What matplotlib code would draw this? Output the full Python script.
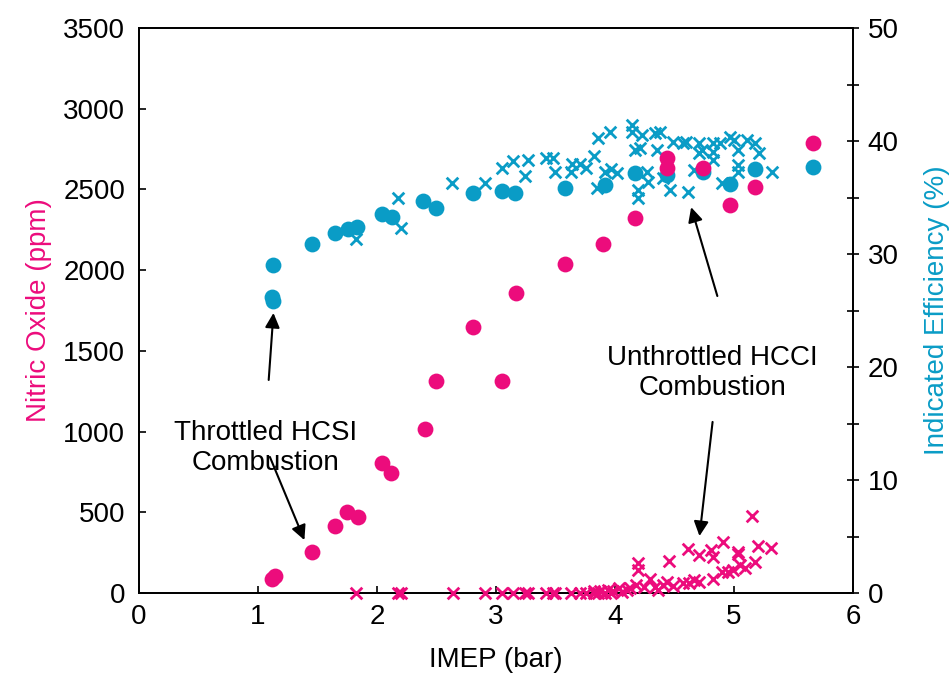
import matplotlib
matplotlib.use('Agg')
import matplotlib.pyplot as plt
from matplotlib.ticker import MultipleLocator

plt.rcParams['font.family'] = ['Liberation Sans', 'DejaVu Sans']

PINK = '#ec0c7c'
CYAN = '#0a9cc6'

# スロットル運転 (HCSI): 丸
thr_nox_x = [1.12, 1.14, 1.45, 1.65, 1.75, 1.84, 2.04, 2.12, 2.40, 2.50, 2.81,
             3.05, 3.17, 3.58, 3.90, 4.17, 4.44, 4.44, 4.74, 4.97, 5.18, 5.66]
thr_nox = [85, 105, 254, 415, 502, 471, 805, 743, 1016, 1313, 1648,
           1313, 1859, 2040, 2160, 2323, 2695, 2633, 2633, 2404, 2515, 2788]

thr_eff_x = [1.13, 1.12, 1.13, 1.45, 1.65, 1.76, 1.83, 2.04, 2.13, 2.39, 2.50,
             2.81, 3.05, 3.16, 3.58, 3.92, 4.17, 4.44, 4.74, 4.97, 5.18, 5.66]
thr_eff = [29.0, 26.2, 25.8, 30.9, 31.9, 32.2, 32.4, 33.5, 33.3, 34.7, 34.1,
           35.4, 35.6, 35.4, 35.8, 36.1, 37.2, 37.0, 37.3, 36.2, 37.5, 37.7]

# ノンスロットル運転 (HCCI): バツ
hcci_eff_x = [1.82, 2.18, 2.20, 2.63, 2.91, 3.05, 3.14, 3.24, 3.27, 3.42, 3.48,
              3.50, 3.63, 3.64, 3.71, 3.76, 3.82, 3.85, 3.86, 3.92, 3.96, 3.97,
              4.02, 4.14, 4.14, 4.17, 4.19, 4.19, 4.21, 4.23, 4.27, 4.28, 4.34,
              4.38, 4.35, 4.40, 4.46, 4.49, 4.57, 4.60, 4.61, 4.66, 4.71, 4.71,
              4.73, 4.82, 4.82, 4.82, 4.88, 4.90, 4.97, 5.00, 5.03, 5.03, 5.03,
              5.11, 5.18, 5.21, 5.32]
hcci_eff = [31.3, 35.0, 32.3, 36.3, 36.3, 37.6, 38.2, 36.9, 38.3, 38.5, 38.5,
            37.3, 37.3, 38.0, 38.0, 37.6, 38.7, 35.8, 40.3, 37.3, 40.8, 37.5,
            37.2, 41.4, 40.8, 39.2, 35.7, 35.0, 39.4, 40.5, 37.3, 36.4, 40.7,
            40.8, 39.2, 36.7, 35.7, 39.9, 39.8, 39.9, 35.5, 37.4, 39.8, 38.9,
            39.2, 39.8, 39.0, 38.3, 39.8, 36.3, 40.4, 40.1, 39.2, 37.9, 37.3,
            40.1, 39.8, 38.9, 37.3]

hcci_nox_x = [1.82, 2.18, 2.20, 2.64, 2.91, 3.05, 3.14, 3.24, 3.27, 3.42, 3.48,
              3.50, 3.63, 3.71, 3.76, 3.82, 3.86, 3.92, 3.97, 3.82, 3.87, 3.94,
              3.98, 4.03, 4.06, 4.10, 4.13, 4.18, 4.24, 4.19, 4.19, 4.29, 4.34,
              4.36, 4.40, 4.44, 4.45, 4.49, 4.57, 4.61, 4.62, 4.66, 4.71, 4.71,
              4.81, 4.82, 4.82, 4.90, 4.91, 4.95, 4.99, 5.03, 5.03, 5.05, 5.09,
              5.15, 5.18, 5.20, 5.31]
hcci_nox = [0, 0, 0, 0, 0, 0, 0, 0, 0, 0, 0,
            0, 0, 0, 0, 0, 0, 0, 0, 12, 12, 19,
            12, 31, 8, 19, 31, 50, 37, 186, 143, 87, 37,
            19, 50, 68, 198, 43, 62, 273, 62, 80, 68, 235,
            266, 223, 87, 130, 316, 130, 143, 254, 242, 173, 155,
            477, 192, 291, 279]

fig = plt.figure(figsize=(9.5, 6.77), dpi=100)
ax = fig.add_axes([0.1463, 0.124, 0.7516, 0.8346])   # 効率 (右軸)
ax2 = ax.twinx()                                     # NOx (左軸)

ax.scatter(thr_eff_x, thr_eff, s=130, marker='o', color=CYAN, linewidths=0, zorder=3)
ax.scatter(hcci_eff_x, hcci_eff, s=70, marker='x', color=CYAN, linewidths=2.0, zorder=3)
ax2.scatter(thr_nox_x, thr_nox, s=130, marker='o', color=PINK, linewidths=0, zorder=3)
ax2.scatter(hcci_nox_x, hcci_nox, s=70, marker='x', color=PINK, linewidths=2.0,
            zorder=3, clip_on=False)

ax.set_xlim(0, 6)
ax.set_ylim(0, 50)
ax2.set_ylim(0, 3500)

ax.yaxis.tick_right()
ax.yaxis.set_label_position('right')
ax2.yaxis.tick_left()
ax2.yaxis.set_label_position('left')

ax.xaxis.set_major_locator(MultipleLocator(1))
ax.yaxis.set_major_locator(MultipleLocator(10))
ax.yaxis.set_minor_locator(MultipleLocator(5))
ax2.yaxis.set_major_locator(MultipleLocator(500))

ax.tick_params(axis='x', direction='in', length=5, width=1.2, labelsize=20, pad=8)
ax.tick_params(axis='y', which='both', direction='inout', length=9, width=1.2,
               labelsize=20, pad=6)
ax.tick_params(axis='y', which='minor', labelright=False)
ax2.tick_params(axis='y', direction='in', length=5, width=1.2, labelsize=20, pad=10)

for a in (ax, ax2):
    for sp in a.spines.values():
        sp.set_linewidth(1.3)

ax.set_xlabel('IMEP (bar)', fontsize=20, labelpad=12)
ax.set_ylabel('Indicated Efficiency (%)', fontsize=20, color=CYAN, labelpad=18)
ax2.set_ylabel('Nitric Oxide (ppm)', fontsize=20, color=PINK, labelpad=8)

arrow = dict(arrowstyle='-|>', color='black', lw=1.5, mutation_scale=22, shrinkA=0, shrinkB=0)
ax2.text(1.06, 898, 'Throttled HCSI\nCombustion', fontsize=20, ha='center', va='center')
ax2.annotate('', xy=(1.13, 1735), xytext=(1.09, 1320), arrowprops=arrow)
ax2.annotate('', xy=(1.39, 328), xytext=(1.10, 843), arrowprops=arrow)

ax2.text(4.82, 1363, 'Unthrottled HCCI\nCombustion', fontsize=20, ha='center', va='center')
ax2.annotate('', xy=(4.64, 2390), xytext=(4.86, 1840), arrowprops=arrow)
ax2.annotate('', xy=(4.71, 353), xytext=(4.82, 1060), arrowprops=arrow)

fig.savefig('out.png', dpi=100)
